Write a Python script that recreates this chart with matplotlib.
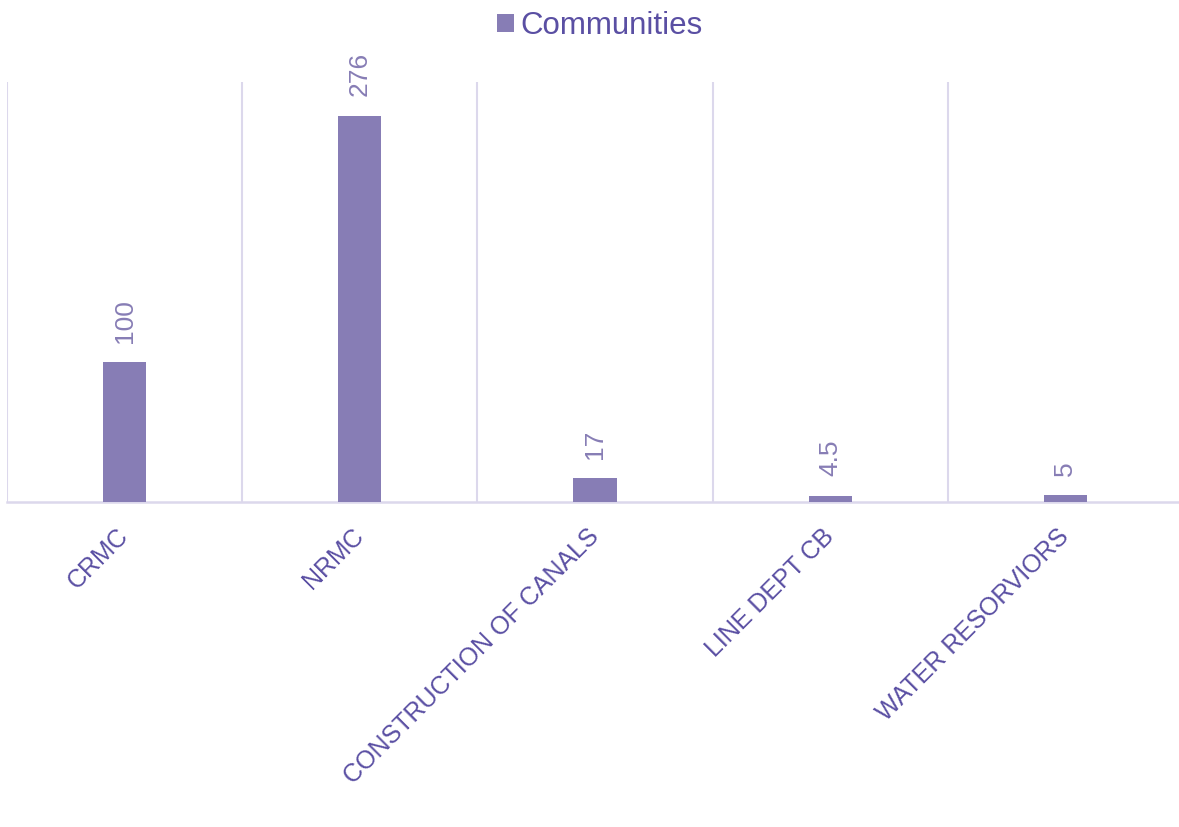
import matplotlib
matplotlib.use("Agg")
import matplotlib.pyplot as plt
from matplotlib.patches import Patch
import numpy as np

categories = ["CRMC", "NRMC", "CONSTRUCTION OF CANALS", "LINE DEPT CB", "WATER RESORVIORS"]
values = [100, 276, 17, 4.5, 5]
value_labels = ["100", "276", "17", "4.5", "5"]
series_name = "Communities"

bar_color = "#877DB5"
text_color = "#5A4FA3"
grid_color = "#DCD8EC"

plt.rcParams['font.family'] = ['Liberation Sans', 'DejaVu Sans']

fig = plt.figure(figsize=(11.79, 8.27), dpi=100)
W, H = 1179, 827
left_px, right_px, top_px, bottom_px = 7, 1183, 82, 502
ax = fig.add_axes([left_px / W, 1 - bottom_px / H, (right_px - left_px) / W, (bottom_px - top_px) / H])

x = np.arange(len(categories))
ax.bar(x, values, width=0.183, color=bar_color, zorder=3)
ax.set_xlim(-0.5, len(categories) - 0.5)
ax.set_ylim(0, 300)

for xi, v, lab in zip(x, values, value_labels):
    ax.annotate(lab, (xi, v), xytext=(0, 14), textcoords="offset points",
                rotation=90, ha="center", va="bottom", fontsize=19, color=bar_color)

# gridlines at category boundaries
ax.set_xticks(np.arange(-0.5, len(categories), 1.0), minor=True)
ax.grid(True, which="minor", axis="x", color=grid_color, linewidth=1.5, zorder=0)
ax.grid(False, which="major")
ax.set_yticks([])
for s in ["top", "right", "left"]:
    ax.spines[s].set_visible(False)
ax.spines["bottom"].set_color(grid_color)
ax.spines["bottom"].set_linewidth(1.8)

ax.set_xticks(x)
ax.set_xticklabels(categories, rotation=45, ha="right", va="center",
                   rotation_mode="anchor", fontsize=18, color=text_color)
ax.tick_params(axis="x", which="both", length=0, pad=22)

handle = Patch(facecolor=bar_color, edgecolor="none")
fig.legend([handle], [series_name], loc="center", bbox_to_anchor=(600 / W, 1 - 26 / H),
           frameon=False, fontsize=22.5, handlelength=0.55, handleheight=0.55,
           handletextpad=0.2, labelcolor=text_color)

fig.savefig("out.png", dpi=100)
